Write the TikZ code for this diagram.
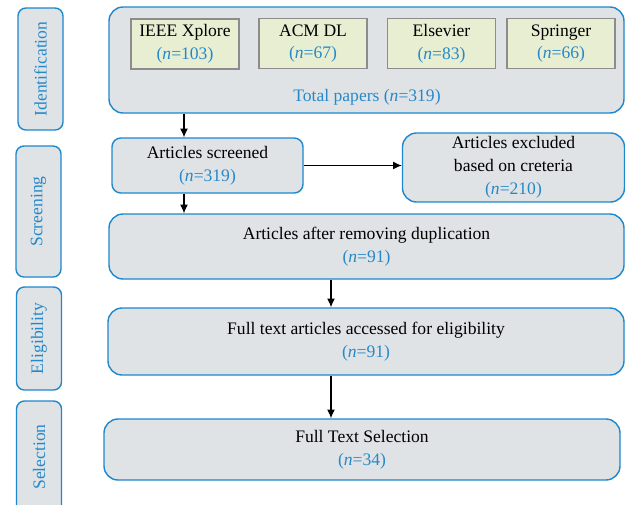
\documentclass[tikz,border=0pt]{standalone}
\usepackage{fontspec}
\setmainfont{Liberation Serif}
\usetikzlibrary{positioning,arrows.meta}
\definecolor{boxfill}{RGB}{224,227,230}
\definecolor{boxline}{RGB}{30,136,204}
\definecolor{nblue}{RGB}{37,137,201}
\definecolor{srcfill}{RGB}{232,238,210}
\definecolor{srcline}{RGB}{140,140,140}
\newcommand{\nval}[1]{\textcolor{nblue}{(\textit{n}=#1)}}

\begin{document}
\begin{tikzpicture}[x=0.02cm, y=-0.02cm,
  every node/.style={font=\fontsize{10}{13}\selectfont, align=center, inner sep=0pt},
  stage/.style={draw=boxline, fill=boxfill, line width=0.8pt, rounded corners=4.5pt, rotate=90, text=nblue, minimum height=45*0.02cm},
  bigbox/.style={draw=boxline, fill=boxfill, line width=0.8pt, rounded corners=8pt},
  smallbox/.style={draw=boxline, fill=boxfill, line width=0.8pt, rounded corners=5pt},
  srcbox/.style={draw=srcline, fill=srcfill, line width=0.8pt, minimum width=108*0.02cm, minimum height=50*0.02cm},
  arr/.style={-{Latex[length=5pt,width=4.5pt]}, line width=0.6pt}]
\useasboundingbox (0,0) rectangle (625,504);

% stage labels
\node[stage, minimum width=122*0.02cm] (sIdent) at (40.5,69) {Identification};
\node[stage, minimum width=131*0.02cm] (sScreen) at (38.5,211.5) {Screening};
\node[stage, minimum width=103*0.02cm] (sElig) at (39,338.5) {Eligibility};
\node[stage, minimum width=112*0.02cm] (sSel) at (39,457) {Selection};

% identification
\node[bigbox, minimum width=515*0.02cm, minimum height=106*0.02cm] (ident) at (366.5,60) {};
\node[srcbox] (ieee) at (185,44) {IEEE Xplore\\ \nval{103}};
\node[srcbox] (acm) at (313,43.5) {ACM DL\\ \nval{67}};
\node[srcbox] (elsevier) at (441.5,43.5) {Elsevier\\ \nval{83}};
\node[srcbox] (springer) at (561,43.5) {Springer\\ \nval{66}};
\node[text=nblue] (total) at (367,97) {Total papers (\textit{n}=319)};

% screening
\node[smallbox, minimum width=191*0.02cm, minimum height=55*0.02cm] (screened) at (207.5,165.5) {Articles screened\\ \nval{319}};
\node[bigbox, minimum width=222*0.02cm, minimum height=69*0.02cm] (excluded) at (513.5,167.5) {Articles excluded\\ based on creteria\\ \nval{210}};
\node[bigbox, minimum width=515*0.02cm, minimum height=65*0.02cm] (dup) at (366.5,246.5) {Articles after removing duplication\\ \nval{91}};

% eligibility and selection
\node[bigbox, minimum width=516*0.02cm, minimum height=67*0.02cm] (elig) at (366,341.5) {Full text articles accessed for eligibility\\ \nval{91}};
\node[bigbox, minimum width=516*0.02cm, minimum height=61*0.02cm] (sel) at (362,449.5) {Full Text Selection\\ \nval{34}};

% arrows
\coordinate (colA) at (184,0);
\coordinate (colB) at (331,0);
\draw[arr] (ident.south -| colA) -- (screened.north -| colA);
\draw[arr] (screened.east) -- (screened.east -| excluded.west);
\draw[arr] (screened.south -| colA) -- (dup.north -| colA);
\draw[arr] (dup.south -| colB) -- (elig.north -| colB);
\draw[arr] (elig.south -| colB) -- (sel.north -| colB);
\end{tikzpicture}
\end{document}
